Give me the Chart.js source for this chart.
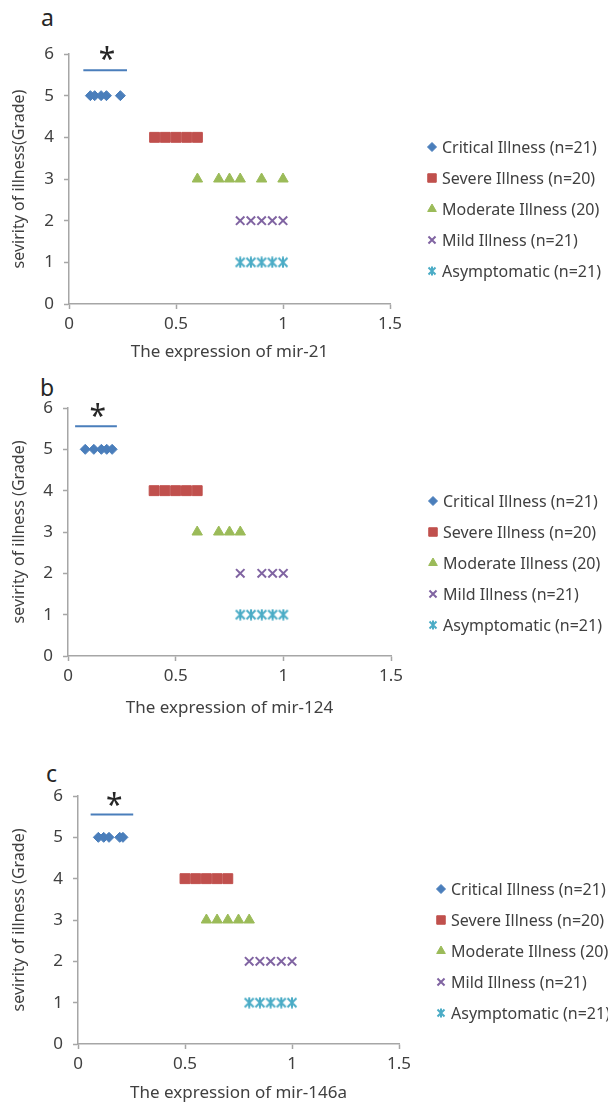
<!DOCTYPE html>
<html>
<head>
<meta charset="utf-8">
<script src="https://cdn.jsdelivr.net/npm/chart.js@4"></script>
<style>
  html, body { margin: 0; padding: 0; background: #fff; }
  body { width: 608px; height: 1106px; position: relative; overflow: hidden; font-family: "Noto Sans", sans-serif; }
  canvas { position: absolute; left: 0; }
  .tag { position: absolute; font-size: 23px; color: #262626; line-height: 1; }
</style>
</head>
<body>
<div class="tag" style="left:41px;top:6px">a</div>
<canvas id="chart-a" width="608" height="365" style="top:0"></canvas>
<div class="tag" style="left:40px;top:376px">b</div>
<canvas id="chart-b" width="608" height="355" style="top:365px"></canvas>
<div class="tag" style="left:46px;top:762px">c</div>
<canvas id="chart-c" width="608" height="386" style="top:720px"></canvas>
<script>
// ── 資料 ─────────────────────────────────────────────
const groupLabels = ['Critical Illness (n=21)', 'Severe Illness (n=20)', 'Moderate Illness (20)', 'Mild Illness (n=21)', 'Asymptomatic (n=21)'];
const grades = [5, 4, 3, 2, 1];
const xTicks = [0, 0.5, 1, 1.5];
const yTicks = [0, 1, 2, 3, 4, 5, 6];

// panel a: mir-21
const aCritical = [0.10, 0.12, 0.15, 0.175, 0.24];
const aSevere = [0.40, 0.45, 0.50, 0.55, 0.60];
const aModerate = [0.60, 0.70, 0.75, 0.80, 0.90, 1.00];
const aMild = [0.80, 0.85, 0.90, 0.95, 1.00];
const aAsym = [0.80, 0.85, 0.90, 0.95, 1.00];
const aSigX = [0.067, 0.271];
const aSigY = 5.61;
const aStar = [0.178, 5.98];

// panel b: mir-124
const bCritical = [0.08, 0.12, 0.155, 0.18, 0.205];
const bSevere = [0.40, 0.45, 0.50, 0.55, 0.60];
const bModerate = [0.60, 0.70, 0.75, 0.80];
const bMild = [0.80, 0.90, 0.95, 1.00];
const bAsym = [0.80, 0.85, 0.90, 0.95, 1.00];
const bSigX = [0.033, 0.227];
const bSigY = 5.56;
const bStar = [0.138, 5.91];

// panel c: mir-146a
const cCritical = [0.095, 0.12, 0.145, 0.195, 0.21];
const cSevere = [0.50, 0.55, 0.60, 0.65, 0.70];
const cModerate = [0.60, 0.65, 0.70, 0.75, 0.80];
const cMild = [0.80, 0.85, 0.90, 0.95, 1.00];
const cAsym = [0.80, 0.85, 0.90, 0.95, 1.00];
const cSigX = [0.059, 0.258];
const cSigY = 5.55;
const cStar = [0.17, 5.90];

// ── 樣式 ─────────────────────────────────────────────
const COLORS = ['#4a7ebb', '#c0504d', '#9bbb59', '#8064a2', '#4bacc6'];
const AXIS = '#a6a6a6';
const TEXT = '#404040';
const FONT = '"Noto Sans", sans-serif';

// Excel 的星形標記（x 加直線）
function excelStar(color, size) {
  const c = document.createElement('canvas');
  c.width = c.height = size;
  const g = c.getContext('2d');
  const m = size / 2, r = size / 2 - 1.5;
  g.strokeStyle = color;
  g.lineWidth = 2;
  g.beginPath();
  g.moveTo(m - r, m - r); g.lineTo(m + r, m + r);
  g.moveTo(m + r, m - r); g.lineTo(m - r, m + r);
  g.moveTo(m, 0.5); g.lineTo(m, size - 0.5);
  g.stroke();
  return c;
}

const STYLES = [
  { pointStyle: 'rectRot', radius: 5, legendRadius: 4.5 },
  { pointStyle: 'rect', radius: 7, legendRadius: 6 },
  { pointStyle: 'triangle', radius: 6, legendRadius: 5 },
  { pointStyle: 'crossRot', radius: 6, legendRadius: 5, borderWidth: 2 },
  { pointStyle: excelStar(COLORS[4], 12), radius: 6, legendPointStyle: excelStar(COLORS[4], 10), legendRadius: 5 },
];

// ── 右側圖例 ─────────────────────────────────────────
const sideLegend = {
  id: 'sideLegend',
  afterDraw(chart, args, opts) {
    const { ctx, chartArea } = chart;
    ctx.save();
    ctx.font = '16px ' + FONT;
    ctx.textBaseline = 'middle';
    chart.data.datasets.forEach((ds, i) => {
      if (ds.isMarker) return;
      const st = STYLES[i];
      const x = chartArea.right + opts.left;
      const y = chartArea.top + opts.top + i * opts.gap;
      ctx.fillStyle = ds.backgroundColor;
      ctx.strokeStyle = ds.borderColor;
      ctx.lineWidth = ds.pointBorderWidth;
      Chart.helpers.drawPoint(ctx, {
        pointStyle: st.legendPointStyle || st.pointStyle,
        radius: st.legendRadius,
        rotation: 0,
        borderWidth: ds.pointBorderWidth,
      }, x, y);
      ctx.fillStyle = TEXT;
      ctx.fillText(ds.label, x + 10, y + 1);
    });
    ctx.restore();
  },
};

// ── 顯著性星號 ───────────────────────────────────────
const starMark = {
  id: 'starMark',
  afterDatasetsDraw(chart, args, opts) {
    const { ctx, scales } = chart;
    ctx.save();
    ctx.font = '30px ' + FONT;
    ctx.fillStyle = '#262626';
    ctx.textAlign = 'center';
    ctx.textBaseline = 'middle';
    ctx.fillText('*', scales.x.getPixelForValue(opts.at[0]), scales.y.getPixelForValue(opts.at[1]) + 6);
    ctx.restore();
  },
};

function groupDataset(i, xs) {
  const st = STYLES[i];
  return {
    label: groupLabels[i],
    data: xs.map(x => ({ x, y: grades[i] })),
    pointStyle: st.pointStyle,
    pointRadius: st.radius,
    pointBackgroundColor: COLORS[i],
    pointBorderColor: COLORS[i],
    pointBorderWidth: st.borderWidth || 1,
    backgroundColor: COLORS[i],
    borderColor: COLORS[i],
    showLine: false,
  };
}

function buildPanel(canvasId, groups, sigX, sigY, star, xTitle, yTitle, box) {
  const canvas = document.getElementById(canvasId);
  const H = canvas.height;
  const datasets = groups.map((xs, i) => groupDataset(i, xs));
  datasets.push({
    isMarker: true,
    data: sigX.map(x => ({ x, y: sigY })),
    showLine: true,
    borderColor: '#4a7ebb',
    borderWidth: 2,
    pointRadius: 0,
  });

  return new Chart(canvas, {
    type: 'scatter',
    data: { datasets },
    options: {
      responsive: false,
      animation: false,
      events: [],
      layout: {
        padding: { left: 0, top: box.top, right: 608 - box.right, bottom: H - box.bottom - box.xh },
      },
      plugins: {
        legend: { display: false },
        tooltip: { enabled: false },
        sideLegend: { left: 42, top: 93, gap: 31 },
        starMark: { at: star },
      },
      scales: {
        x: {
          type: 'linear',
          min: 0,
          max: 1.5,
          afterBuildTicks: s => { s.ticks = xTicks.map(v => ({ value: v })); },
          afterFit: s => { s.height = box.xh; },
          ticks: { color: TEXT, font: { family: FONT, size: 17 }, padding: 5, callback: v => String(v), maxRotation: 0 },
          grid: { drawOnChartArea: false, drawTicks: true, tickLength: 5, tickColor: AXIS, tickWidth: 1.5 },
          border: { display: true, color: AXIS, width: 1.5 },
          title: { display: true, text: xTitle, color: TEXT, font: { family: FONT, size: 17 }, padding: { top: 0, bottom: 2 } },
        },
        y: {
          type: 'linear',
          min: 0,
          max: 6,
          afterBuildTicks: s => { s.ticks = yTicks.map(v => ({ value: v })); },
          afterFit: s => { s.width = box.left; },
          ticks: { color: TEXT, font: { family: FONT, size: 17 }, padding: 10 },
          grid: { drawOnChartArea: false, drawTicks: true, tickLength: 5, tickColor: AXIS, tickWidth: 1.5 },
          border: { display: true, color: AXIS, width: 1.5 },
          title: { display: true, text: yTitle, color: TEXT, font: { family: FONT, size: 16 }, padding: { top: 10, bottom: 0 } },
        },
      },
    },
    plugins: [sideLegend, starMark],
  });
}

buildPanel('chart-a', [aCritical, aSevere, aModerate, aMild, aAsym], aSigX, aSigY, aStar,
  'The expression of mir-21', 'sevirity of illness(Grade)',
  { left: 69, right: 390, top: 54, bottom: 304, xh: 60 });

buildPanel('chart-b', [bCritical, bSevere, bModerate, bMild, bAsym], bSigX, bSigY, bStar,
  'The expression of mir-124', 'sevirity of illness (Grade)',
  { left: 68, right: 391, top: 43, bottom: 291, xh: 64 });

buildPanel('chart-c', [cCritical, cSevere, cModerate, cMild, cAsym], cSigX, cSigY, cStar,
  'The expression of mir-146a', 'sevirity of illness (Grade)',
  { left: 78, right: 399, top: 76, bottom: 324, xh: 61 });
</script>
</body>
</html>
